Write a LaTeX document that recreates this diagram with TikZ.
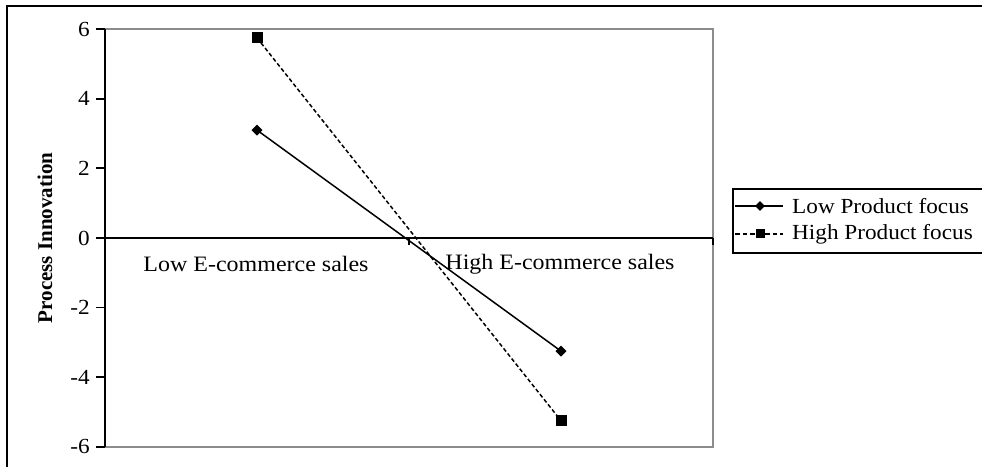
\documentclass[tikz,border=0pt]{standalone}
\usepackage{fontspec}
\setmainfont{Liberation Serif}
\usetikzlibrary{shapes.geometric}

\tikzset{
  frameline/.style={line width=2pt, black},
  plotedge/.style={line width=2pt, color=black!45},
  axisline/.style={line width=1.8pt, black},
  ticklabel/.style={anchor=east, inner sep=0pt, font=\fontsize{21.5}{25}\selectfont},
  catlabel/.style={inner sep=0pt, font=\fontsize{22}{26}\selectfont},
  legtext/.style={anchor=west, inner sep=0pt, font=\fontsize{21.5}{26}\selectfont},
  diam/.style={diamond, fill=black, inner sep=0pt, minimum width=11pt, minimum height=11pt},
  sq/.style={rectangle, fill=black, inner sep=0pt, minimum size=11pt},
  lowline/.style={line width=1.5pt, black},
  highline/.style={line width=1.5pt, black, dash pattern=on 4pt off 2.5pt},
}

\begin{document}
\begin{tikzpicture}[x=1pt, y=1pt]
\useasboundingbox (0,0) rectangle (982,466);

% outer frame (top and left edges)
\draw[frameline] (7,-5) -- (7,460) -- (990,460);

% plotting region, value axis in data units
\begin{scope}[x=1pt, y=34.8pt, shift={(0,228pt)}]
  % plot box
  \draw[plotedge] (105,6) -- (713,6) -- (713,-6) -- (105,-6);
  \draw[axisline] (105,-6) -- (105,6);
  % value ticks and labels
  \foreach \v in {-6,-4,...,6} {
    \draw[axisline] (96,\v) -- (105,\v);
    \node[ticklabel] at (90,\v) {\scalebox{1.08}[1]{\v}};
  }
  % zero line with category ticks
  \draw[line width=1.5pt] (105,0) -- (713,0);
  \foreach \x in {105,409,713}
    \draw[line width=1.5pt] (\x,0) -- (\x,-0.2);

  % category labels
  \node[catlabel] (lowcat) at (256,-0.75) {\scalebox{1.09}[1]{Low E-commerce sales}};
  \node[catlabel] (highcat) at (560,-0.75) {\scalebox{1.09}[1]{High E-commerce sales}};

  % data points
  \node[diam] (lp1) at (257,3.1) {};
  \node[diam] (lp2) at (561,-3.25) {};
  \node[sq]   (hp1) at (257,5.75) {};
  \node[sq]   (hp2) at (561,-5.25) {};
  \draw[lowline] (lp1.center) -- (lp2.center);
  \draw[highline] (hp1.center) -- (hp2.center);
\end{scope}

% value axis title
\node[rotate=90, inner sep=0pt, font=\fontsize{21}{25}\selectfont\bfseries] (ytitle) at (45,228) {Process Innovation};

% legend
\draw[line width=1.6pt] (733,213) rectangle (995,277);
\coordinate (la) at (735,260);
\coordinate (lb) at (783,260);
\coordinate (ha) at (735,232);
\coordinate (hb) at (783,232);
\draw[lowline] (la) -- (lb);
\node[diam, minimum width=10pt, minimum height=10pt] (lmark) at (760,260) {};
\draw[highline, dash pattern=on 4.5pt off 3pt] (ha) -- (hb);
\node[sq, minimum size=9pt] (hmark) at (760,232) {};
\node[legtext] (ltext) at (792,260) {\scalebox{1.08}[1]{Low Product focus}};
\node[legtext] (htext) at (792,232) {\scalebox{1.08}[1]{High Product focus}};
\end{tikzpicture}
\end{document}
